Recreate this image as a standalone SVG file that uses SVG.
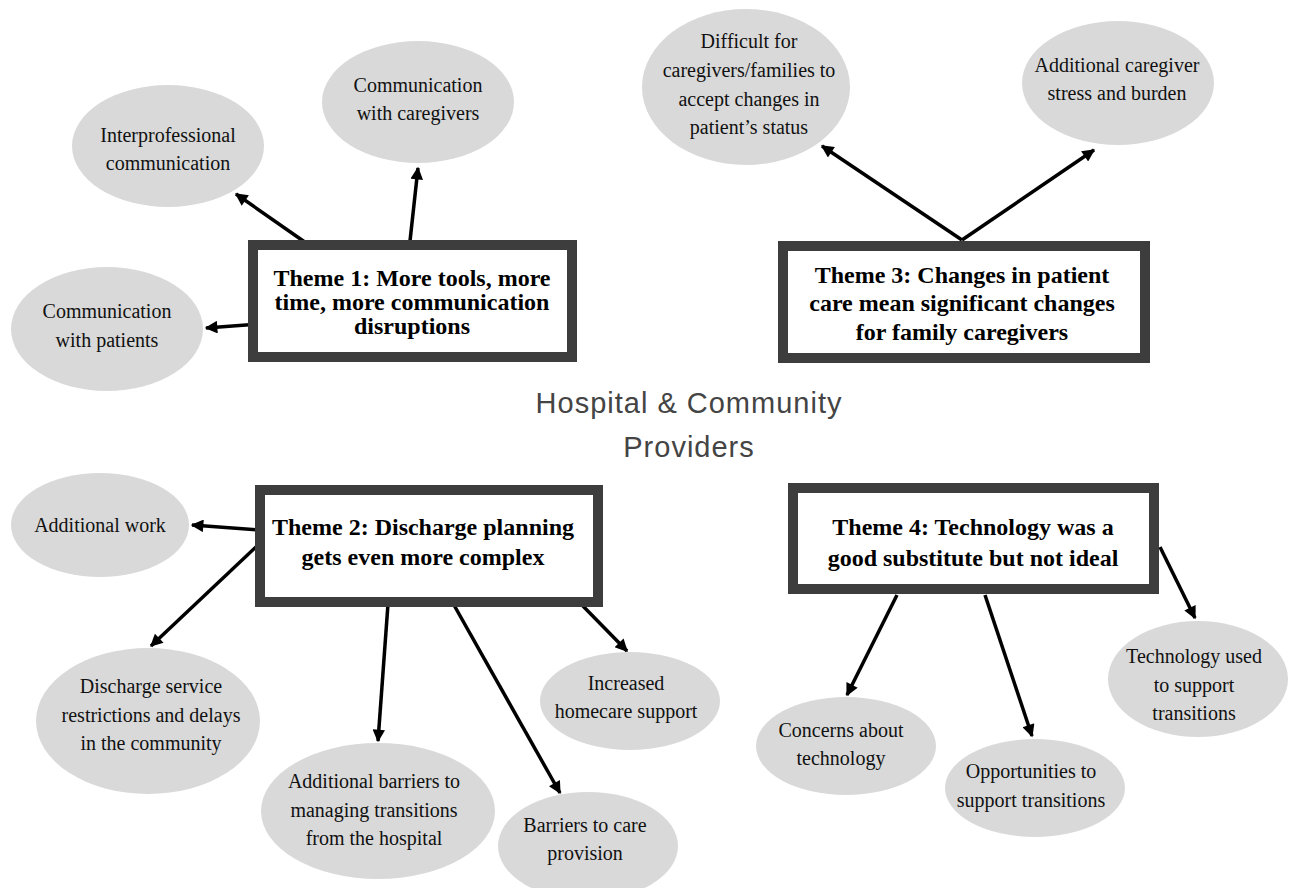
<svg xmlns="http://www.w3.org/2000/svg" width="1291" height="888" viewBox="0 0 1291 888">
<defs>
<marker id="ah" viewBox="0 0 10 10" refX="9" refY="5" markerWidth="4" markerHeight="3.6" orient="auto" markerUnits="strokeWidth">
<path d="M0,0 L10,5 L0,10 z" fill="#000"/>
</marker>
<style>
.box{fill:#fff;stroke:#3d3d3d;stroke-width:10}
.ell{fill:#d9d9d9}
.t{font-family:"Liberation Serif","Times New Roman",serif;font-size:20px;fill:#111;text-anchor:middle}
.h{font-family:"Liberation Serif","Times New Roman",serif;font-size:24px;font-weight:bold;fill:#000;text-anchor:middle}
.c{font-family:"Liberation Sans",Arial,sans-serif;font-size:29px;letter-spacing:1px;fill:#444;text-anchor:middle}
.a{stroke:#000;stroke-width:3.5;fill:none;marker-end:url(#ah)}
</style>
</defs>
<rect width="1291" height="888" fill="#fff"/>

<g id="center-label">
<text class="c" x="689" y="413">Hospital &amp; Community</text>
<text class="c" x="689" y="457">Providers</text>
</g>

<g id="connectors">
<line class="a" x1="309" y1="245" x2="236" y2="194"/>
<line class="a" x1="410" y1="241" x2="418" y2="168"/>
<line class="a" x1="258" y1="324" x2="206" y2="328"/>
<line class="a" x1="962" y1="240" x2="822" y2="146"/>
<line class="a" x1="962" y1="240" x2="1094" y2="150"/>
<line class="a" x1="258" y1="530" x2="192" y2="525"/>
<line class="a" x1="257" y1="546" x2="151" y2="646"/>
<line class="a" x1="388" y1="604" x2="378" y2="741"/>
<line class="a" x1="450" y1="598" x2="560" y2="793"/>
<line class="a" x1="580" y1="603" x2="627" y2="651"/>
<line class="a" x1="897" y1="595" x2="847" y2="695"/>
<line class="a" x1="985" y1="595" x2="1032" y2="736"/>
<line class="a" x1="1160" y1="547" x2="1195" y2="618"/>
</g>

<g id="theme1">
<rect class="box" x="253" y="245" width="319" height="112"/>
<text class="h" x="412" y="286">Theme 1: More tools, more</text>
<text class="h" x="412" y="310">time, more communication</text>
<text class="h" x="412" y="334">disruptions</text>
</g>
<g id="interprofessional">
<ellipse class="ell" cx="168" cy="146" rx="96" ry="61"/>
<text class="t" x="168" y="142">Interprofessional</text>
<text class="t" x="168" y="170">communication</text>
</g>
<g id="comm-caregivers">
<ellipse class="ell" cx="418" cy="102" rx="96" ry="61"/>
<text class="t" x="418" y="92">Communication</text>
<text class="t" x="418" y="120">with caregivers</text>
</g>
<g id="comm-patients">
<ellipse class="ell" cx="107" cy="329" rx="96" ry="62"/>
<text class="t" x="107" y="318">Communication</text>
<text class="t" x="107" y="347">with patients</text>
</g>

<g id="theme3">
<rect class="box" x="783" y="246" width="362" height="112"/>
<text class="h" x="962" y="283">Theme 3: Changes in patient</text>
<text class="h" x="962" y="311">care mean significant changes</text>
<text class="h" x="962" y="340">for family caregivers</text>
</g>
<g id="difficult">
<ellipse class="ell" cx="746" cy="87" rx="104" ry="78"/>
<text class="t" x="749" y="48">Difficult for</text>
<text class="t" x="749" y="77">caregivers/families to</text>
<text class="t" x="749" y="106">accept changes in</text>
<text class="t" x="749" y="134">patient’s status</text>
</g>
<g id="caregiver-stress">
<ellipse class="ell" cx="1118" cy="83" rx="96" ry="62"/>
<text class="t" x="1117" y="72">Additional caregiver</text>
<text class="t" x="1117" y="100">stress and burden</text>
</g>

<g id="theme2">
<rect class="box" x="260" y="490" width="338" height="112"/>
<text class="h" x="423" y="535">Theme 2: Discharge planning</text>
<text class="h" x="423" y="565">gets even more complex</text>
</g>
<g id="additional-work">
<ellipse class="ell" cx="100" cy="525" rx="89" ry="52"/>
<text class="t" x="100" y="532">Additional work</text>
</g>
<g id="discharge-service">
<ellipse class="ell" cx="148" cy="721" rx="112" ry="73"/>
<text class="t" x="151" y="693">Discharge service</text>
<text class="t" x="151" y="722">restrictions and delays</text>
<text class="t" x="151" y="750">in the community</text>
</g>
<g id="additional-barriers">
<ellipse class="ell" cx="378" cy="811" rx="117" ry="68"/>
<text class="t" x="374" y="788">Additional barriers to</text>
<text class="t" x="374" y="817">managing transitions</text>
<text class="t" x="374" y="845">from the hospital</text>
</g>
<g id="barriers-care">
<ellipse class="ell" cx="588" cy="846" rx="90" ry="54"/>
<text class="t" x="585" y="832">Barriers to care</text>
<text class="t" x="585" y="860">provision</text>
</g>
<g id="homecare">
<ellipse class="ell" cx="630" cy="701" rx="90" ry="49"/>
<text class="t" x="626" y="690">Increased</text>
<text class="t" x="626" y="718">homecare support</text>
</g>

<g id="theme4">
<rect class="box" x="793" y="488" width="361" height="101"/>
<text class="h" x="973" y="535">Theme 4: Technology was a</text>
<text class="h" x="973" y="566">good substitute but not ideal</text>
</g>
<g id="concerns">
<ellipse class="ell" cx="846" cy="746" rx="90" ry="49"/>
<text class="t" x="841" y="737">Concerns about</text>
<text class="t" x="841" y="765">technology</text>
</g>
<g id="opportunities">
<ellipse class="ell" cx="1035" cy="788" rx="90" ry="49"/>
<text class="t" x="1031" y="778">Opportunities to</text>
<text class="t" x="1031" y="807">support transitions</text>
</g>
<g id="tech-used">
<ellipse class="ell" cx="1198" cy="679" rx="90" ry="58"/>
<text class="t" x="1194" y="663">Technology used</text>
<text class="t" x="1194" y="692">to support</text>
<text class="t" x="1194" y="720">transitions</text>
</g>
</svg>
